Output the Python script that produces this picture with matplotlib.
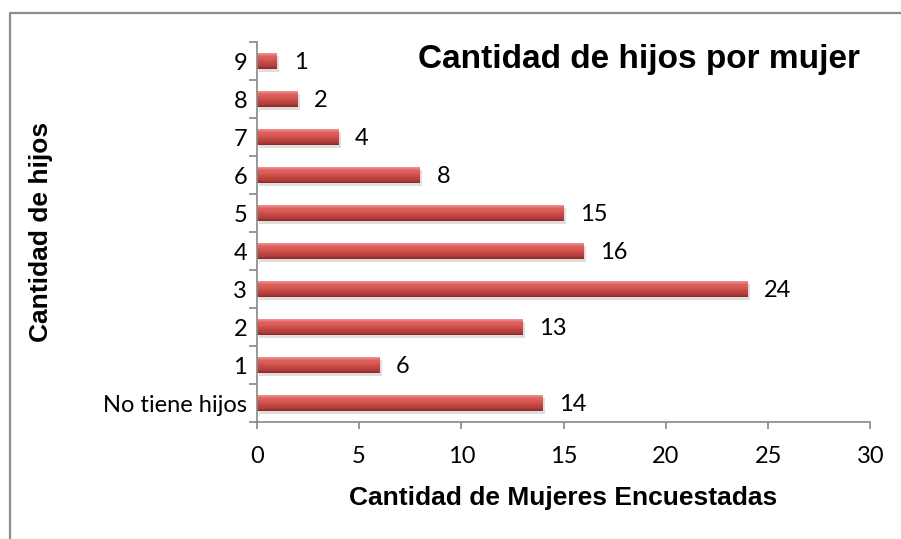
import numpy as np
import matplotlib.pyplot as plt
from matplotlib.colors import LinearSegmentedColormap
from matplotlib.lines import Line2D

categories = ['No tiene hijos', '1', '2', '3', '4', '5', '6', '7', '8', '9']
values = [14, 6, 13, 24, 16, 15, 8, 4, 2, 1]
xticks = [0, 5, 10, 15, 20, 25, 30]

fig = plt.figure(figsize=(9.01, 5.39), dpi=100)
ax = fig.add_axes([0.285, 0.217, 0.681, 0.705])

pos = np.arange(len(categories))
h = 0.42
# soft shadow under each bar
ax.barh(pos - 0.09, values, height=h, left=0.1, color='#dedede', zorder=1)
# vertical gradient (light on top, dark at the bottom) to mimic the bevel
grad = LinearSegmentedColormap.from_list('bev', ['#8a2a28', '#b8403d', '#d0504c', '#dc5e5a', '#f09895'])
n = 14
for i in range(n):
    frac = (i + 0.5) / n
    ax.barh(pos - h / 2 + frac * h, values, height=h / n, color=grad(frac), lw=0, zorder=2)

for p, v in zip(pos, values):
    ax.text(v + 0.8, p - 0.05, str(v), va='center', ha='left', fontsize=17, family='Lato')

ax.set_xlim(0, 30)
ax.set_ylim(-0.5, len(categories) - 0.5)
ax.set_xticks(xticks)
ax.set_xticklabels([str(t) for t in xticks], fontsize=17, family='Lato')
ax.set_yticks(pos)
ax.set_yticklabels(categories, fontsize=17, family='Lato')
ax.set_yticks(np.arange(len(pos) + 1) - 0.5, minor=True)
ax.tick_params(axis='y', which='major', length=0, pad=7)
ax.tick_params(axis='y', which='minor', length=6, width=1.2, color='#888888', direction='out')
ax.tick_params(axis='x', length=5, width=1.2, color='#888888', direction='out', pad=12)

for s in ['top', 'right']:
    ax.spines[s].set_visible(False)
for s in ['left', 'bottom']:
    ax.spines[s].set_color('#888888')
    ax.spines[s].set_linewidth(1.2)

ax.set_xlabel('Cantidad de Mujeres Encuestadas', fontsize=19, fontweight='bold',
              family='Liberation Sans', labelpad=14)
ax.set_ylabel('Cantidad de hijos', fontsize=19, fontweight='bold',
              family='Liberation Sans', labelpad=36)
ax.text(0.623, 0.953, 'Cantidad de hijos por mujer', transform=ax.transAxes,
        fontsize=24, fontweight='bold', family='Liberation Sans', va='center', ha='center')

# chart frame: only left and top edges fall inside the picture
fig.lines.append(Line2D([0.011, 0.011, 1.0], [0.0, 0.976, 0.976], transform=fig.transFigure,
                        color='#8c8c8c', lw=1.6))

fig.savefig('out.png', dpi=100)
